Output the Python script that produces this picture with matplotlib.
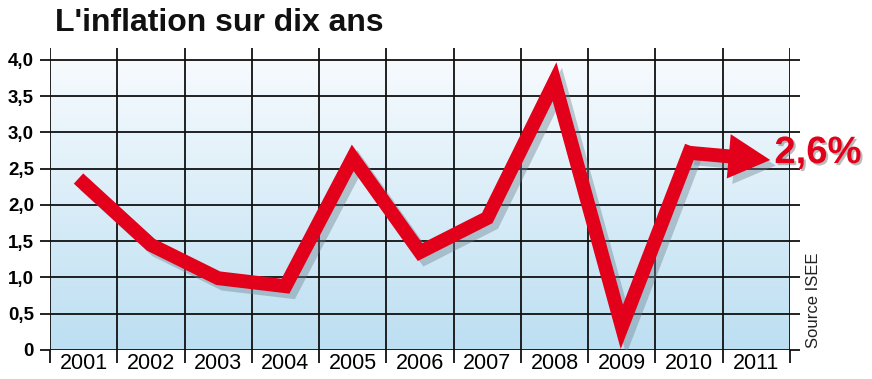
import numpy as np
import matplotlib.pyplot as plt
import matplotlib.patheffects as pe
from matplotlib.colors import LinearSegmentedColormap
from matplotlib.transforms import ScaledTranslation

# inflation sur dix ans, source ISEE
years = [2001, 2002, 2003, 2004, 2005, 2006, 2007, 2008, 2009, 2010, 2011]
inflation = [2.3, 1.45, 0.99, 0.88, 2.65, 1.35, 1.82, 3.7, 0.32, 2.72, 2.62]
y_ticks = [0, 0.5, 1.0, 1.5, 2.0, 2.5, 3.0, 3.5, 4.0]
y_labels = ['0', '0,5', '1,0', '1,5', '2,0', '2,5', '3,0', '3,5', '4,0']
last_label = '2,6%'

red = '#e2001a'
fig = plt.figure(figsize=(8.72, 3.79), dpi=100)
ax = fig.add_axes([50 / 872, 1 - 350 / 379, 740 / 872, 302 / 379])

x0, x1 = years[0] - 0.5, years[-1] + 0.5
ax.set_xlim(x0, x1)
ax.set_ylim(0, 4.165)

# gradient background (white at the top, light blue at the bottom)
cmap = LinearSegmentedColormap.from_list('bg', ['#bcdff2', '#f7fbfe'])
grad = np.linspace(0, 1, 256).reshape(-1, 1)
ax.imshow(grad, cmap=cmap, origin='lower', aspect='auto',
          extent=[x0, x1, 0, 4.0], zorder=0)

for s in ax.spines.values():
    s.set_visible(False)

# grid: column boundaries and horizontal lines
bounds = np.arange(x0, x1 + 0.01, 1.0)
ax.set_xticks(bounds)
ax.set_xticklabels([])
ax.set_xticks(years, minor=True)
ax.set_xticklabels([str(y) for y in years], minor=True,
                   family=['Liberation Sans Narrow', 'Liberation Sans'], fontsize=15.5)
ax.tick_params(axis='x', which='major', length=9, width=1.3, direction='out', color='#111111')
ax.tick_params(axis='x', which='minor', length=0, pad=2)
for b in bounds:
    ax.axvline(b, color='#111111', lw=1.3, zorder=1)

ax.set_yticks(y_ticks)
ax.set_yticklabels(y_labels, fontweight='bold', fontsize=13.5, family='Liberation Sans')
ax.tick_params(axis='y', which='major', length=7.5, width=1.3, direction='out',
               left=True, right=True, color='#111111', pad=4)
for yv in y_ticks:
    ax.axhline(yv, color='#111111', lw=1.3, zorder=1)

# the red line with shadow
shadow = [pe.SimpleLineShadow(offset=(4, -4), shadow_color='#6a7f8c', alpha=0.4),
          pe.Normal()]
ax.plot(years[:-1], inflation[:-1], color=red, lw=10, solid_joinstyle='miter',
        solid_capstyle='projecting', zorder=3, path_effects=shadow)

# last segment ends with an arrow head that runs a bit past 2011
tip = ax.transData + ScaledTranslation(10 / 72, 0, fig.dpi_scale_trans)
arrow = ax.annotate('', xy=(years[-1], inflation[-1]), xycoords=tip,
                    xytext=(years[-2], inflation[-2]), textcoords='data',
                    arrowprops=dict(arrowstyle='simple,head_length=1.5,head_width=1.6,tail_width=0.5',
                                    mutation_scale=20, color=red, lw=0, shrinkA=0, shrinkB=0),
                    annotation_clip=False, zorder=3)
arrow.arrow_patch.set_path_effects([pe.SimplePatchShadow(offset=(4, -4), shadow_rgbFace='#6a7f8c',
                                                         alpha=0.4), pe.Normal()])

ax.annotate(last_label, xy=(years[-1], inflation[-1]), xytext=(13, 5),
            textcoords='offset points', ha='left', va='center',
            color=red, fontsize=27.5, fontweight='bold', family='Liberation Sans',
            annotation_clip=False, zorder=5,
            path_effects=[pe.withSimplePatchShadow(offset=(1.5, -1.5), shadow_rgbFace='#777777',
                                                   alpha=0.5)])

fig.text(55 / 872, 1 - 8 / 379, "L'inflation sur dix ans", ha='left', va='top',
         fontsize=23, fontweight='bold', family='Liberation Sans', color='#111111')
fig.text(813 / 872, 1 - 300 / 379, 'Source ISEE', rotation=90, ha='center', va='center',
         fontsize=12, family='Liberation Sans', color='#222222')

fig.savefig('out.png', dpi=100)
